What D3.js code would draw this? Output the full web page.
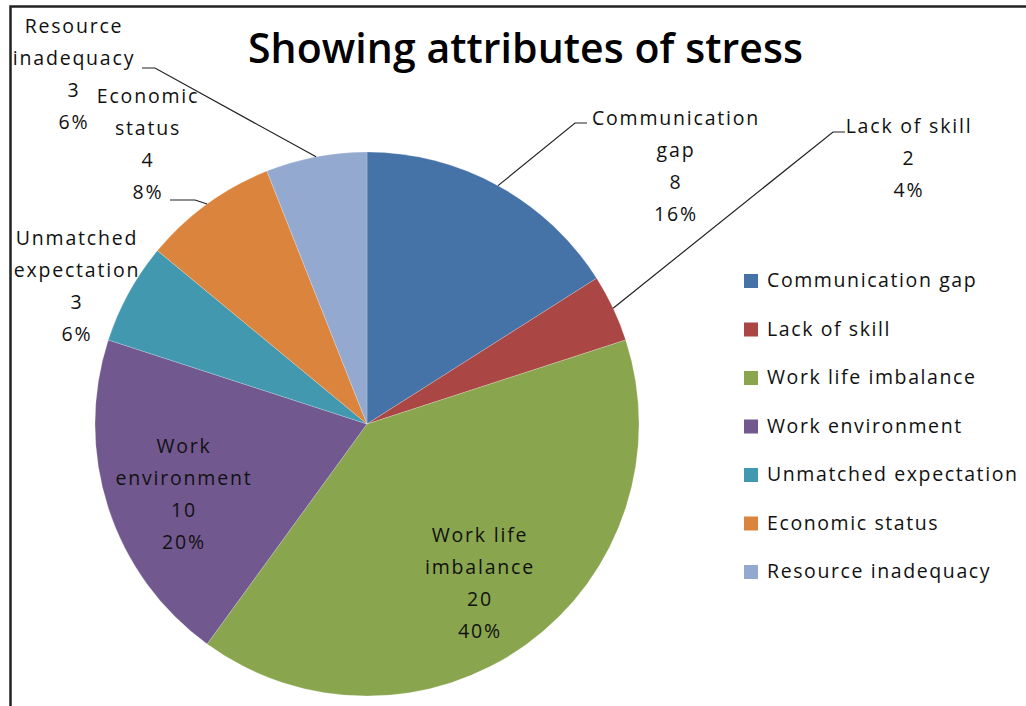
<!DOCTYPE html>
<html>
<head>
<meta charset="utf-8">
<script src="https://cdn.jsdelivr.net/npm/d3@7"></script>
<style>
  html, body { margin: 0; padding: 0; background: #fff; }
  svg { display: block; }
  text { font-family: "Open Sans", "Noto Sans", sans-serif; fill: #111; }
</style>
</head>
<body>
<svg id="chart" width="1026" height="706"></svg>
<script>
// ---- data ----
const categories = ["Communication gap", "Lack of skill", "Work life imbalance", "Work environment",
                    "Unmatched expectation", "Economic status", "Resource inadequacy"];
const values = [8, 2, 20, 10, 3, 4, 3];
const percents = ["16%", "4%", "40%", "20%", "6%", "8%", "6%"];
const labelLines = [
  ["Communication", "gap"],
  ["Lack of skill"],
  ["Work life", "imbalance"],
  ["Work", "environment"],
  ["Unmatched", "expectation"],
  ["Economic", "status"],
  ["Resource", "inadequacy"]
];
const colors = ["#4572A7", "#AA4643", "#89A54E", "#71588F", "#4198AF", "#DB843D", "#93A9CF"];
const title = "Showing attributes of stress";

// ---- layout (positions relative to pie centre) ----
const W = 1026, H = 706;
const cx = 367, cy = 424, R = 272;
// label block: centre x, first baseline y (relative to centre)
const labelLayout = [
  { dx: 309, y0: -299, leader: { elbow: [208, -301], end: [220, -301] } },
  { dx: 542, y0: -291, leader: { elbow: [466, -292], end: [478, -292] } },
  { dx: 113, y0: 118 },
  { dx: -183, y0: 29 },
  { dx: -290, y0: -179 },
  { dx: -219, y0: -321, leader: { elbow: [-172, -224], end: [-197, -224] } },
  { dx: -293, y0: -391, leader: { elbow: [-212, -356], end: [-225, -356] } }
];
const lineH = 32;

const svg = d3.select("#chart");

// outer frame
svg.append("rect")
  .attr("x", 10.5).attr("y", 6.5)
  .attr("width", W + 20).attr("height", H + 20)
  .attr("fill", "none").attr("stroke", "#222").attr("stroke-width", 2.5);

// title
svg.append("text")
  .attr("x", 525.5).attr("y", 63)
  .attr("text-anchor", "middle")
  .attr("font-size", 41).attr("font-weight", 600)
  .attr("textLength", 555).attr("lengthAdjust", "spacing")
  .style("fill", "#000")
  .text(title);

// pie
const pie = d3.pie().sort(null).value(d => d)
  .startAngle(0).endAngle(2 * Math.PI);
const arcs = pie(values);
const arc = d3.arc().innerRadius(0).outerRadius(R);

const g = svg.append("g").attr("transform", `translate(${cx},${cy})`);
g.selectAll("path.slice")
  .data(arcs)
  .join("path")
  .attr("class", "slice")
  .attr("d", arc)
  .attr("fill", (d, i) => colors[i])
  .attr("stroke", "rgba(255,255,255,0.3)")
  .attr("stroke-width", 0.7);

// leader lines
arcs.forEach((a, i) => {
  const L = labelLayout[i].leader;
  if (!L) return;
  const mid = (a.startAngle + a.endAngle) / 2;
  const ex = R * Math.sin(mid), ey = -R * Math.cos(mid);
  g.append("polyline")
    .attr("points", [[ex, ey], L.elbow, L.end].map(p => p.join(",")).join(" "))
    .attr("fill", "none").attr("stroke", "#222").attr("stroke-width", 1.2);
});

// data labels
arcs.forEach((a, i) => {
  const lay = labelLayout[i];
  const lines = labelLines[i].concat([String(values[i]), percents[i]]);
  const t = g.append("text")
    .attr("text-anchor", "middle")
    .attr("font-size", 19.5)
    .attr("letter-spacing", 1.8);
  lines.forEach((ln, k) => {
    t.append("tspan")
      .attr("x", lay.dx)
      .attr("y", lay.y0 + k * lineH)
      .text(ln);
  });
});

// legend
const legend = svg.append("g").attr("transform", "translate(744,274)");
const rowH = 48.5;
const items = legend.selectAll("g.item")
  .data(categories)
  .join("g")
  .attr("class", "item")
  .attr("transform", (d, i) => `translate(0,${i * rowH})`);
items.append("rect")
  .attr("width", 14).attr("height", 14)
  .attr("fill", (d, i) => colors[i]);
items.append("text")
  .attr("x", 23).attr("y", 13)
  .attr("font-size", 19.5)
  .attr("letter-spacing", 1.6)
  .text(d => d);
</script>
</body>
</html>
